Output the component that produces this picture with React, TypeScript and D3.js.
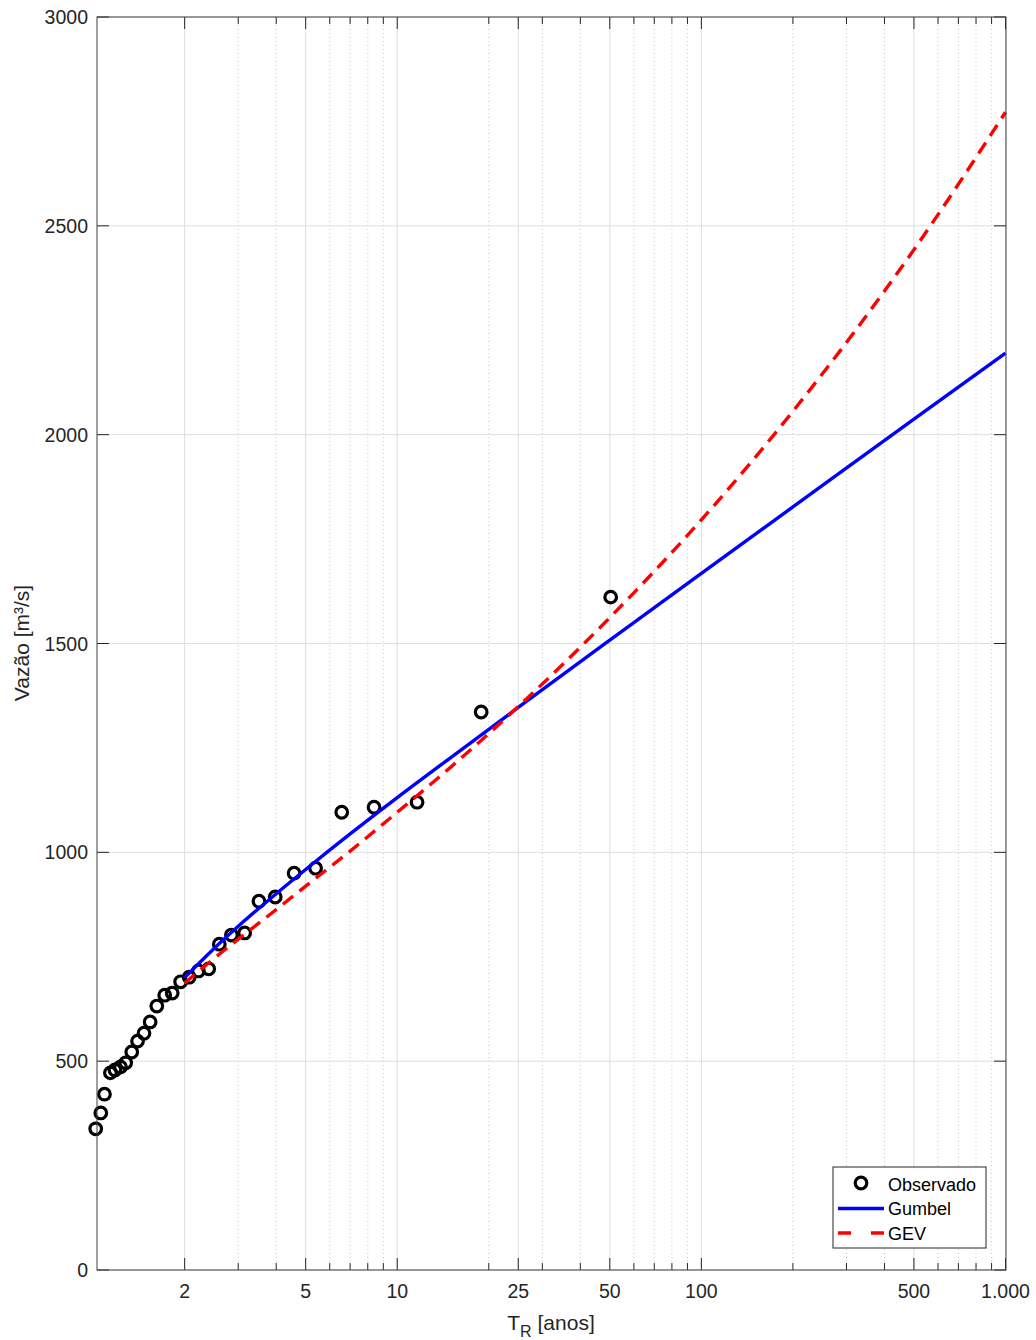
import React from "react";
import * as d3 from "d3";

// Observed (Cunnane plotting positions) – return period [anos] and discharge [m³/s]
const obsT = [50.33, 18.88, 11.62, 8.39, 6.57, 5.39, 4.58, 3.97, 3.51, 3.15, 2.85, 2.6, 2.4, 2.22, 2.07, 1.94, 1.82, 1.72, 1.62, 1.54, 1.47, 1.4, 1.34, 1.28, 1.23, 1.18, 1.14, 1.09, 1.06, 1.02];
const obsQ = [1611, 1336, 1120, 1108, 1096, 962, 950, 893, 883, 807, 802, 780, 721, 716, 701, 690, 663, 658, 632, 594, 567, 548, 522, 496, 486, 479, 472, 421, 376, 338];

// Fitted curves
const curveT = [2, 2.5, 3, 4, 5, 7, 10, 15, 25, 50, 100, 200, 500, 1000];
const gumbelQ = [700, 770, 823, 901, 959, 1044, 1131, 1227, 1347, 1508, 1668, 1827, 2037, 2195];
const gevQ = [687, 746, 792, 863, 919, 1003, 1096, 1204, 1349, 1562, 1796, 2056, 2443, 2772];

const xTicks = [2, 5, 10, 25, 50, 100, 500, 1000];
const xTickLabels = ["2", "5", "10", "25", "50", "100", "500", "1.000"];
const xMinor = [3, 4, 6, 7, 8, 9, 20, 30, 40, 60, 70, 80, 90, 200, 300, 400, 600, 700, 800, 900];
const yTicks = [0, 500, 1000, 1500, 2000, 2500, 3000];

const legendItems = ["Observado", "Gumbel", "GEV"];

export default function App() {
  const W = 1036, H = 1340;
  const L = 97, R = 1006, T = 17, B = 1270;
  const x = d3.scaleLog().domain([1.03, 1000]).range([L, R - 0.5]);
  const y = d3.scaleLinear().domain([0, 3000]).range([B, T]);
  const font = "'Liberation Sans', Arial, Helvetica, sans-serif";
  const axisColor = "#262626";
  const gridColor = "#dedede";

  const line = d3.line<[number, number]>()
    .x((d) => x(d[0]))
    .y((d) => y(d[1]))
    .curve(d3.curveMonotoneX);

  const gumbelPath = line(curveT.map((t, i) => [t, gumbelQ[i]]) as [number, number][]) || "";
  const gevPath = line(curveT.map((t, i) => [t, gevQ[i]]) as [number, number][]) || "";

  const majorLen = 12;
  const minorLen = 7;

  return (
    <svg width={W} height={H} style={{ position: "absolute", left: 0, top: 0, display: "block", background: "#fff" }} fontFamily={font}>
      <rect x={0} y={0} width={W} height={H} fill="#fff" />
      {/* minor grid */}
      {xMinor.map((v) => (
        <line key={"mg" + v} x1={x(v)} x2={x(v)} y1={T} y2={B} stroke="#c8c8c8" strokeWidth={1} strokeDasharray="1,3" />
      ))}
      {/* major grid */}
      {xTicks.map((v) => (
        <line key={"gx" + v} x1={x(v)} x2={x(v)} y1={T} y2={B} stroke={gridColor} strokeWidth={1} />
      ))}
      {yTicks.map((v) => (
        <line key={"gy" + v} x1={L} x2={R} y1={y(v)} y2={y(v)} stroke={gridColor} strokeWidth={1} />
      ))}

      {/* ticks */}
      {xTicks.map((v) => (
        <g key={"tx" + v}>
          <line x1={x(v)} x2={x(v)} y1={B} y2={B - majorLen} stroke={axisColor} strokeWidth={1} />
          <line x1={x(v)} x2={x(v)} y1={T} y2={T + majorLen} stroke={axisColor} strokeWidth={1} />
        </g>
      ))}
      {xMinor.map((v) => (
        <g key={"tm" + v}>
          <line x1={x(v)} x2={x(v)} y1={B} y2={B - minorLen} stroke={axisColor} strokeWidth={1} />
          <line x1={x(v)} x2={x(v)} y1={T} y2={T + minorLen} stroke={axisColor} strokeWidth={1} />
        </g>
      ))}
      {yTicks.map((v) => (
        <g key={"ty" + v}>
          <line x1={L} x2={L + majorLen} y1={y(v)} y2={y(v)} stroke={axisColor} strokeWidth={1} />
          <line x1={R} x2={R - majorLen} y1={y(v)} y2={y(v)} stroke={axisColor} strokeWidth={1} />
        </g>
      ))}

      {/* observed */}
      {obsT.map((t, i) => (
        <circle key={"o" + i} cx={x(t)} cy={y(obsQ[i])} r={5.8} fill="none" stroke="#000" strokeWidth={3.2} />
      ))}

      {/* curves */}
      <path d={gumbelPath} fill="none" stroke="#0000ff" strokeWidth={3.4} />
      <path d={gevPath} fill="none" stroke="#ff0000" strokeWidth={3.4} strokeDasharray="13,8" />

      {/* axes box */}
      <rect x={L} y={T} width={R - L} height={B - T} fill="none" stroke="#404040" strokeWidth={1} />

      {/* tick labels */}
      {xTicks.map((v, i) => (
        <text key={"lx" + v} x={x(v)} y={B + 28} textAnchor="middle" fontSize={19.5} fill={axisColor}>
          {xTickLabels[i]}
        </text>
      ))}
      {yTicks.map((v) => (
        <text key={"ly" + v} x={L - 9} y={y(v) + 7} textAnchor="end" fontSize={19.5} fill={axisColor}>
          {v}
        </text>
      ))}

      {/* axis labels */}
      <text x={551} y={1330} textAnchor="middle" fontSize={21} fill={axisColor}>
        T<tspan fontSize={16} dy={7}>R</tspan>
        <tspan dy={-7}> [anos]</tspan>
      </text>
      <text transform="translate(29,643) rotate(-90)" textAnchor="middle" fontSize={21} fill={axisColor}>
        Vazão [m³/s]
      </text>

      {/* legend */}
      <g>
        <rect x={833} y={1167} width={153} height={81} fill="#fff" stroke={axisColor} strokeWidth={1} />
        {legendItems.map((name, i) => {
          const cy = 1184 + i * 24.5;
          return (
            <g key={name}>
              {i === 0 && <circle cx={861} cy={cy - 1} r={5.8} fill="none" stroke="#000" strokeWidth={3.2} />}
              {i === 1 && <line x1={838} x2={884} y1={cy} y2={cy} stroke="#0000ff" strokeWidth={3.4} />}
              {i === 2 && <line x1={838} x2={884} y1={cy} y2={cy} stroke="#ff0000" strokeWidth={3.4} strokeDasharray="13,20" />}
              <text x={888} y={cy + 6.5} fontSize={18} fill="#000">{name}</text>
            </g>
          );
        })}
      </g>
    </svg>
  );
}
